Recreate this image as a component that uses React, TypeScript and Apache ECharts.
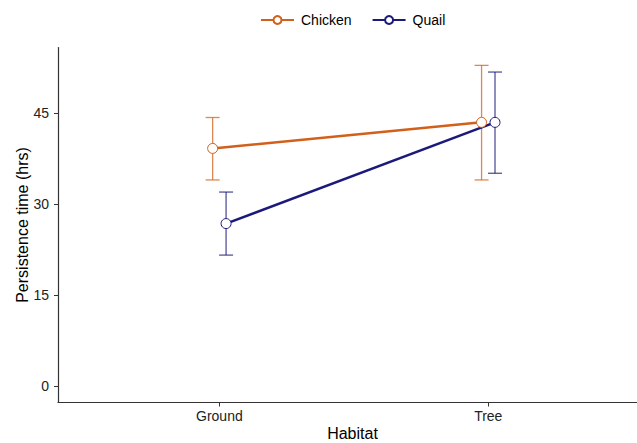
import React, { useEffect, useRef } from "react";
import * as echarts from "echarts";

const categories = ["Ground", "Tree"];
const seriesNames = ["Chicken", "Quail"];
const chickenMean = [39.2, 43.5];
const chickenLow = [34.0, 34.0];
const chickenHigh = [44.3, 52.9];
const quailMean = [26.8, 43.5];
const quailLow = [21.6, 35.1];
const quailHigh = [32.0, 51.8];
const yTicks = [0, 15, 30, 45];

const COLORS = ["#D2601A", "#1B1A7A"];
const ERR_COLORS = ["rgba(210,96,26,0.75)", "rgba(27,26,122,0.75)"];
const DODGE = 0.025;

export default function App() {
  const ref = useRef<HTMLDivElement>(null);
  useEffect(() => {
    const chart = echarts.init(ref.current!, null, { renderer: "svg" });
    const groups = [
      { mean: chickenMean, low: chickenLow, high: chickenHigh, off: -DODGE },
      { mean: quailMean, low: quailLow, high: quailHigh, off: DODGE },
    ];
    const series: any[] = [];
    groups.forEach((g, si) => {
      const errData = categories.map((_, i) => [i + 1 + g.off, g.low[i], g.high[i]]);
      series.push({
        type: "custom",
        name: seriesNames[si] + " err",
        z: 1,
        silent: true,
        data: errData,
        encode: { x: 0, y: [1, 2] },
        renderItem: (params: any, api: any) => {
          const x = api.value(0);
          const lo = api.coord([x, api.value(1)]);
          const hi = api.coord([x, api.value(2)]);
          const hw = 7;
          const style = { stroke: ERR_COLORS[si], lineWidth: 1.3 };
          return {
            type: "group",
            children: [
              { type: "line", shape: { x1: lo[0], y1: lo[1], x2: hi[0], y2: hi[1] }, style },
              { type: "line", shape: { x1: lo[0] - hw, y1: lo[1], x2: lo[0] + hw, y2: lo[1] }, style },
              { type: "line", shape: { x1: hi[0] - hw, y1: hi[1], x2: hi[0] + hw, y2: hi[1] }, style },
            ],
          };
        },
      });
    });
    groups.forEach((g, si) => {
      series.push({
        type: "line",
        name: seriesNames[si],
        z: 3,
        data: categories.map((_, i) => [i + 1 + g.off, g.mean[i]]),
        symbol: "circle",
        symbolSize: 10,
        showSymbol: true,
        lineStyle: { color: COLORS[si], width: 2.5 },
        itemStyle: { color: "#ffffff", borderColor: COLORS[si], borderWidth: 1, opacity: 1 },
        emphasis: { disabled: true },
      });
    });

    chart.setOption({
      animation: false,
      textStyle: { fontFamily: "Liberation Sans, Arial, sans-serif" },
      legend: {
        data: seriesNames,
        top: 8,
        left: 255,
        itemWidth: 33,
        itemHeight: 10,
        itemGap: 20,
        textStyle: { fontSize: 14, color: "#000", padding: [0, 0, 0, 2] },
      },
      grid: { left: 58, right: 0, top: 47.5, bottom: 40.5, containLabel: false, outerBoundsMode: "none" },
      xAxis: {
        type: "value",
        min: 0.4,
        max: 2.553,
        name: "Habitat",
        nameLocation: "middle",
        nameGap: 23,
        nameMoveOverlap: false,
        nameTextStyle: { fontSize: 16, color: "#000", padding: [0, 0, 0, 10] },
        splitLine: { show: false },
        axisLine: { show: true, onZero: false, lineStyle: { color: "#333", width: 1.2 } },
        axisTick: { show: true, length: 4, customValues: [1, 2], lineStyle: { color: "#333" } },
        axisLabel: {
          customValues: [1, 2],
          formatter: (v: number) => categories[Math.round(v) - 1] ?? "",
          fontSize: 14,
          color: "#222",
          margin: 6,
        },
      },
      yAxis: {
        type: "value",
        min: -2.72,
        max: 55.85,
        name: "Persistence time (hrs)",
        nameLocation: "middle",
        nameGap: 28,
        nameMoveOverlap: false,
        nameTextStyle: { fontSize: 16, color: "#000" },
        splitLine: { show: false },
        axisLine: { show: true, onZero: false, lineStyle: { color: "#333", width: 1.2 } },
        axisTick: { show: true, length: 4, customValues: yTicks, lineStyle: { color: "#333" } },
        axisLabel: { customValues: yTicks, fontSize: 14, color: "#222", margin: 9 },
      },
      series,
    });
    return () => chart.dispose();
  }, []);
  return <div ref={ref} style={{ width: 637, height: 443, position: "absolute", left: 0, top: 0 }} />;
}
